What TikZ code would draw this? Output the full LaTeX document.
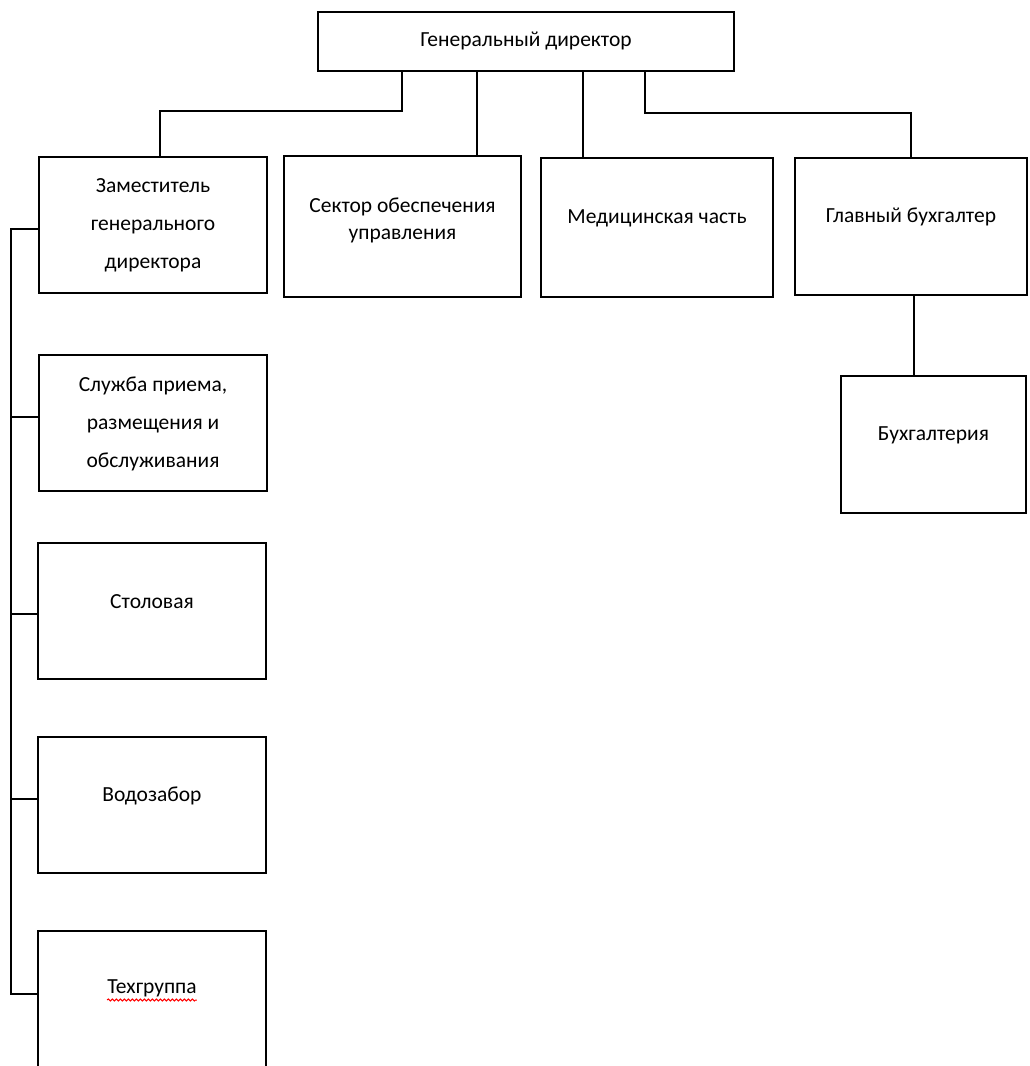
\documentclass[tikz,border=0pt]{standalone}
\usepackage{fontspec}
\setmainfont{Carlito}
\usetikzlibrary{
    calc,
    decorations.pathmorphing,
    positioning
}
\tikzset{
    every picture/.style = {
        x = 1pt,
        y = -1pt
    },
    unit/.style = {
        draw,
        line width = 2pt,
        inner sep = 0pt,
        minimum width = 228pt,
        minimum height = 136pt
    },
    caption/.style = {
        inner sep = 0pt,
        align = center,
        font = \fontsize{21.5}{27}\selectfont
    },
    spaced/.style = {
        font = \fontsize{21.5}{38}\selectfont
    },
    link/.style = {
        line width = 2pt
    },
    squiggle/.style = {
        red,
        line width = 1pt,
        decorate,
        decoration = {snake, amplitude = 1pt, segment length = 4pt}
    }
}

\begin{document}
\begin{tikzpicture}
    \path[use as bounding box, fill = white] (0,0) rectangle (1029,1066);

    \node[unit, minimum width = 416pt, minimum height = 59pt] (gd) at (526,41.5) {};
    \node[unit] (zam) at (153,225) {};
    \node[unit, minimum width = 237pt, minimum height = 141pt] (sector) at (402.5,226.5) {};
    \node[unit, minimum width = 232pt, minimum height = 139pt] (med) at (657,227.5) {};
    \node[unit, minimum width = 232pt, minimum height = 137pt] (gb) at (911,226.5) {};
    \node[unit, minimum width = 185pt, minimum height = 137pt] (buh) at (933.5,444.5) {};
    \node[unit] (sluzh) at (153,423) {};
    \node[unit] (stol) at (152,611) {};
    \node[unit] (vodo) at (152,805) {};
    \node[unit] (tech) at (152,999) {};

    % texts
    \node[caption] (gd text) at (gd) {Генеральный директор};
    \node[caption, spaced] (zam text) at (zam) {Заместитель\\генерального\\директора};
    \node[caption] (sector text) at ([yshift=6.5pt]sector) {Сектор обеспечения\\управления};
    \node[caption] (med text) at ([yshift=9.5pt]med) {Медицинская часть};
    \node[caption] (gb text) at ([yshift=9.5pt]gb) {Главный бухгалтер};
    \node[caption] (buh text) at ([yshift=9.5pt]buh) {Бухгалтерия};
    \node[caption, spaced] (sluzh text) at ([yshift=-1pt]sluzh) {Служба приема,\\размещения и\\обслуживания};
    \node[caption] (stol text) at ([yshift=9pt]stol) {Столовая};
    \node[caption] (vodo text) at ([yshift=9pt]vodo) {Водозабор};
    \node[caption] (tech text) at ([yshift=11pt]tech) {Техгруппа};
    \draw[squiggle] ([yshift=-12pt]tech text.west) -- ([yshift=-12pt]tech text.east);

    % top level
    \draw[link] ([xshift=-124pt]gd.south) -- ++(0,39) -| ([xshift=7pt]zam.north);
    \draw[link] ([xshift=-49pt]gd.south) -- ([xshift=-49pt]gd.south |- sector.north);
    \draw[link] ([xshift=57pt]gd.south) -- ([xshift=57pt]gd.south |- med.north);
    \draw[link] ([xshift=119pt]gd.south) -- ++(0,41) -| (gb.north);
    \draw[link] ([xshift=3pt]gb.south) -- ([xshift=3pt]gb.south |- buh.north);

    % left bus
    \draw[link] ([yshift=-4pt]zam.west) -- ++(-27,0) coordinate (bus) |- ([yshift=5pt]tech.west);
    \foreach \dept/\dy in {sluzh/6pt, stol/-3pt, vodo/6pt}
        \draw[link] ([yshift=\dy]\dept.west) -- ([yshift=\dy]\dept.west -| bus);
\end{tikzpicture}
\end{document}
